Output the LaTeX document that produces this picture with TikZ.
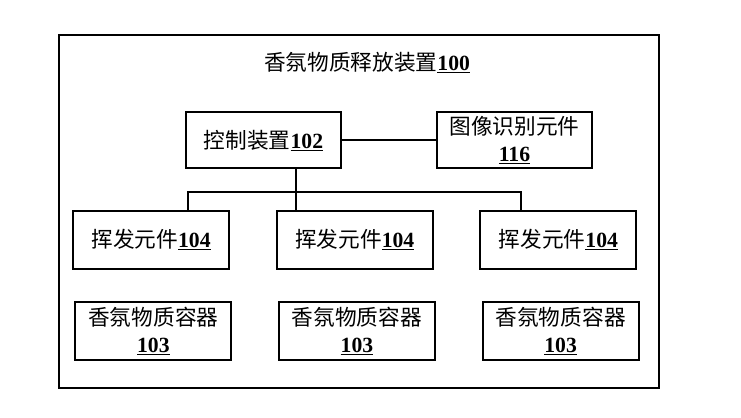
\documentclass[tikz,border=0pt]{standalone}
\usepackage{fontspec}
\usepackage{tikz}
\usetikzlibrary{positioning}
\newfontfamily\cjk{Noto Sans CJK SC}
\newfontfamily\numfont{Liberation Serif}
\newcommand{\refno}[1]{{\numfont\bfseries\underline{#1}}}
\tikzset{
  outerbox/.style ={draw, line width=1.7pt, minimum width=18cm,
                    minimum height=10.59cm, inner sep=0pt},
  unitbox/.style  ={draw, line width=1.7pt, minimum width=4.65cm,
                    minimum height=1.68cm, inner sep=2pt, align=center,
                    font=\cjk\fontsize{18.5}{23}\selectfont},
  partbox/.style  ={unitbox, minimum width=4.68cm, minimum height=1.72cm},
  ttl/.style      ={font=\cjk\fontsize{18.5}{23}\selectfont},
  wire/.style     ={line width=1.7pt},
}
\begin{document}
\begin{tikzpicture}
\useasboundingbox (0,0) rectangle (22.23,12.54);
\node[outerbox] (dev) at (10.77,6.195) {};
\node[ttl] (title) at (11.01,10.65) {香氛物质释放装置\refno{100}};
% control and camera row
\node[unitbox] (ctrl) at (7.905,8.325) {控制装置\refno{102}};
\node[unitbox, right=2.82cm of ctrl] (img) {图像识别元件\\\refno{116}};
% volatile elements
\node[partbox] (v1) at (4.53,5.34) {挥发元件\refno{104}};
\node[partbox, right=1.37cm of v1] (v2) {挥发元件\refno{104}};
\node[partbox, right=1.37cm of v2] (v3) {挥发元件\refno{104}};
% containers
\node[partbox] (c1) at (4.6,2.61) {香氛物质容器\\\refno{103}};
\node[partbox, right=1.37cm of c1] (c2) {香氛物质容器\\\refno{103}};
\node[partbox, right=1.37cm of c2] (c3) {香氛物质容器\\\refno{103}};
\draw[wire] (ctrl) -- (img);
\coordinate (tap) at ([xshift=0.975cm]ctrl.south);
\draw[wire] (tap) -- (tap |- v2.north);
\draw[wire] ([xshift=1.11cm]v1.north) -- ++(0,0.54) -| ([xshift=-1.11cm]v3.north);
\end{tikzpicture}
\end{document}
